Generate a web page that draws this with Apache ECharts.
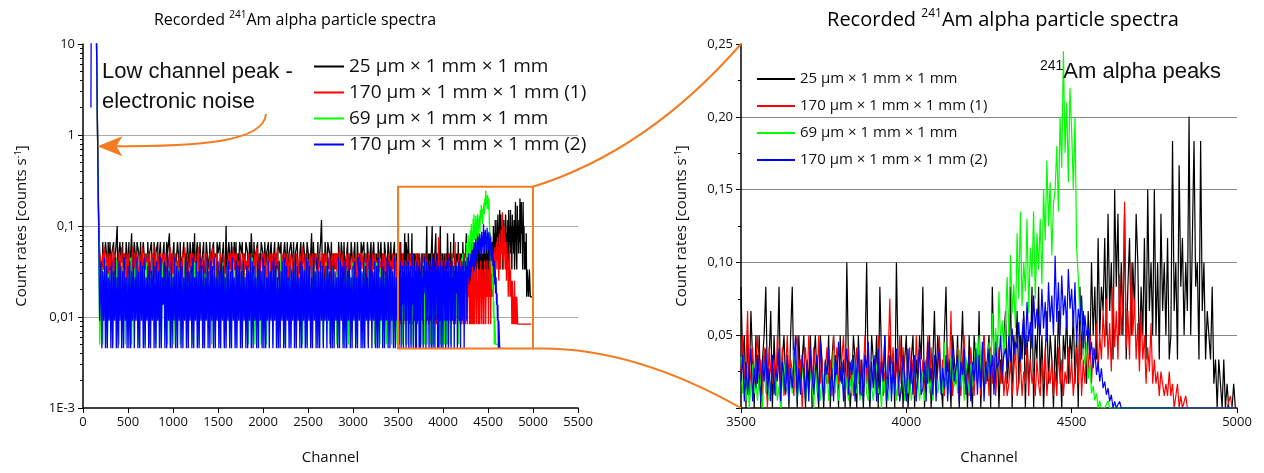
<!DOCTYPE html>
<html>
<head>
<meta charset="utf-8">
<script src="https://cdn.jsdelivr.net/npm/echarts@6/dist/echarts.min.js"></script>
<style>
html, body { margin: 0; padding: 0; background: #fff; }
#chart { width: 1264px; height: 473px; }
</style>
</head>
<body>
<div id="chart"></div>
<script>
// detectors (legend names) and colours
var names = ['25 µm × 1 mm × 1 mm', '170 µm × 1 mm × 1 mm (1)', '69 µm × 1 mm × 1 mm', '170 µm × 1 mm × 1 mm (2)'];
var colors = ['#000000', '#ff0000', '#00ff00', '#0000ff'];
// measuring time per detector [s], count rate = counts / time
var liveTime = [60, 120, 200, 220];

// channel grids
var peakCh = [88, 92, 145, 155, 163, 172, 185];
var lowCh = [];
for (var c = 200; c < 3500; c += 10) lowCh.push(c);
var highCh = [];
for (var c2 = 3500; c2 < 5000; c2 += 5) highCh.push(c2);

// counts at the low channel (noise) peak
var blackPeak = [0, 0, 1800, 1800, 50, 8, 3];
var redPeak = [0, 0, 3600, 3600, 90, 20, 6];
var greenPeak = [0, 0, 6000, 6000, 150, 30, 1];
var bluePeak = [440, 6600, 6600, 6600, 170, 35, 2];

// counts, channels 200..3490 (step 10)
var blackLow = [3,1,4,2,0,4,3,1,4,2, 4,2,3,0,4,1,3,4,6,1, 3,4,0,2,4,1,3,2,4,0, 2,4,1,3,5,2,0,4,3,1,
  4,0,3,2,4,1,3,4,0,2, 3,1,4,2,3,0,4,2,1,4, 2,3,0,4,1,3,4,2,0,3, 4,1,2,4,3,0,5,2,3,1,
  3,4,1,2,0,4,3,1,4,2, 0,3,4,1,3,2,4,0,2,4, 3,1,4,2,5,1,3,4,0,2, 4,2,0,3,4,1,2,4,3,0,
  2,4,1,3,0,4,2,3,1,4, 3,0,4,2,1,3,4,1,2,6, 1,3,4,0,2,4,3,1,4,2, 4,1,3,2,4,0,3,4,1,3,
  2,4,0,3,1,4,2,5,3,1, 4,2,3,0,4,1,3,2,4,0, 3,1,4,2,3,0,4,1,3,4, 2,0,3,4,1,3,2,4,0,3,
  4,1,2,3,4,0,2,4,1,3, 3,4,0,2,4,1,3,0,4,2, 1,3,4,2,0,4,3,1,2,4, 4,0,2,3,5,1,4,2,3,0,
  2,4,1,3,4,7,2,3,1,4, 3,1,4,0,3,2,4,1,3,2, 3,2,3,1,4,0,2,4,3,1, 4,2,0,3,4,1,3,2,4,0,
  2,3,4,1,0,4,2,3,1,4, 3,0,4,2,3,1,4,0,2,3, 4,1,3,4,2,0,3,1,4,2, 0,4,2,3,1,4,3,0,2,4,
  3,1,4,2,0,3,4,1,3,2];
var redLow = [5,3,6,4,7,2,5,6,3,6, 4,6,2,5,7,3,6,4,5,3, 6,3,5,7,4,2,6,5,3,6, 3,6,4,5,2,7,4,6,3,5,
  6,4,3,6,5,2,7,3,5,6, 4,5,6,3,6,4,2,6,5,3, 7,3,5,6,4,3,6,2,5,6, 5,6,3,4,6,5,3,7,4,2,
  6,3,5,6,2,5,4,6,3,5, 3,6,4,7,5,3,6,4,2,6, 5,4,6,3,5,6,2,5,7,3, 6,2,5,4,6,3,5,6,4,3,
  4,6,3,5,7,4,6,2,5,6, 6,3,5,6,4,2,6,5,3,4, 3,5,6,4,6,3,5,7,4,6, 5,6,2,5,4,6,3,5,6,3,
  6,4,5,3,6,5,2,6,4,5, 4,6,3,7,5,4,6,3,5,6, 5,3,6,4,2,6,5,4,6,3, 6,5,3,6,4,5,7,3,5,4,
  3,6,5,4,6,2,5,6,3,5, 6,4,3,5,6,4,3,6,5,2, 5,6,4,3,7,5,4,6,3,6, 4,3,6,5,3,6,4,2,6,5,
  6,5,3,6,4,5,6,3,4,6, 3,6,5,4,6,3,5,6,2,5, 6,4,6,3,5,7,4,3,6,4, 5,3,4,6,3,5,6,4,5,3,
  6,5,3,6,4,2,6,5,4,6, 4,6,5,3,6,4,3,6,5,3, 5,3,6,4,5,6,3,5,4,6, 3,5,4,6,3,5,6,2,5,4,
  6,4,5,3,6,4,5,6,3,5];
var greenLow = [3,7,1,5,2,8,4,1,6,3, 5,2,7,1,4,6,2,9,3,5, 1,6,3,8,2,4,7,1,5,3, 6,2,4,9,1,5,3,7,2,4,
  8,3,1,5,6,2,4,7,3,1, 5,8,2,4,1,6,3,5,9,2, 4,1,7,3,5,2,6,1,4,8, 3,5,2,6,1,7,4,3,5,2,
  6,1,4,8,3,5,2,7,1,4, 5,3,9,2,6,1,4,5,3,7, 2,6,1,4,8,3,5,2,6,1, 4,7,3,5,1,6,2,4,8,3,
  5,2,6,1,7,3,4,9,2,5, 3,6,1,5,2,8,4,1,6,3, 7,2,5,1,4,6,2,8,3,5, 1,4,7,2,6,3,5,1,8,4,
  2,6,3,5,1,7,4,2,9,3, 6,1,5,3,8,2,4,6,1,5, 3,7,2,4,1,6,3,8,2,4, 5,1,6,3,7,2,5,1,4,9,
  2,5,3,8,1,4,6,2,5,3, 7,1,4,2,6,3,9,1,5,2, 4,6,2,5,1,7,3,4,8,1, 6,3,5,1,4,2,8,5,3,6,
  1,5,3,7,2,6,4,1,5,3, 8,2,4,6,1,5,3,7,2,4, 3,6,1,5,9,2,4,3,6,1, 5,2,7,3,4,1,6,5,2,8,
  2,4,6,1,5,3,7,2,4,5, 6,1,3,8,2,4,5,1,7,3, 4,5,2,6,1,3,8,4,2,6, 1,7,4,2,5,6,3,1,5,4,
  5,3,6,1,4,2,7,5,3,1];
var blueLow = [9,1,7,2,10,1,8,1,6,2, 8,1,9,1,7,2,10,1,6,1, 9,2,8,1,7,1,10,2,6,1, 8,1,9,1,7,2,11,1,6,2,
  10,1,7,1,9,2,8,1,10,1, 6,2,8,1,9,1,7,2,10,1, 8,1,9,2,7,1,10,1,6,3, 9,1,8,1,11,2,7,1,9,1,
  6,2,10,1,8,1,7,2,9,1, 8,1,6,2,10,1,9,1,7,2, 8,1,10,1,6,2,9,1,7,1, 10,2,8,1,9,1,6,2,10,1,
  7,1,9,2,8,1,10,1,6,2, 9,1,7,1,10,2,8,1,6,1, 8,2,9,1,7,1,10,2,6,1, 9,1,8,2,10,1,7,1,9,2,
  6,1,8,1,7,2,10,1,9,1, 8,2,6,1,9,1,10,2,7,1, 10,1,8,1,6,2,9,1,7,2, 9,1,10,2,8,1,6,1,9,1,
  7,2,9,1,10,1,8,2,6,1, 8,1,7,2,9,1,10,1,8,2, 6,1,9,1,8,2,7,1,10,1, 9,2,8,1,6,1,10,2,7,1,
  10,1,7,1,9,2,8,1,6,2, 8,1,10,2,7,1,9,1,8,1, 7,2,6,1,10,1,9,2,8,1, 9,1,8,1,7,2,10,1,6,1,
  8,2,9,1,6,1,10,2,9,1, 7,1,10,1,8,2,6,1,9,2, 10,1,7,2,9,1,8,1,10,1, 6,2,9,1,8,1,7,2,10,1,
  9,1,8,2,7,1,10,1,6,2];

// counts, channels 3500..4995 (step 5)
var blackHigh = [5,2,3,0,3,1,4,2,0,3, 1,3,0,2,3,5,1,2,4,0, 3,1,2,5,0,2,3,1,2,0, 3,5,1,2,0,3,1,2,3,0,
  2,1,3,0,2,3,1,0,3,2, 0,2,1,3,0,2,3,1,2,0, 3,1,2,0,6,2,0,1,3,2, 0,3,1,2,0,2,6,1,0,3,
  2,1,3,0,5,2,1,3,0,2, 3,1,2,0,6,2,1,3,0,2, 3,0,1,2,3,0,2,1,3,2, 5,0,2,1,3,0,2,4,1,3,
  2,1,0,3,5,1,2,0,3,2, 1,3,0,2,4,1,2,0,3,1, 0,3,2,1,4,0,2,3,1,2, 3,0,5,2,1,3,0,2,1,3,
  4,1,2,5,0,3,2,4,1,3, 2,4,0,3,1,2,5,0,3,2, 5,1,3,0,2,4,1,3,2,0, 3,1,4,2,0,3,2,4,1,3,
  2,4,1,3,0,5,2,4,3,1, 4,2,6,3,5,2,7,3,5,4, 7,3,8,4,6,2,9,5,8,3, 6,3,8,2,5,7,3,6,4,8,
  6,2,5,3,7,2,9,4,6,3, 9,3,6,2,8,4,6,3,7,2, 3,11,4,6,2,10,5,7,3,6, 4,12,3,7,11,5,6,2,11,4,
  6,2,4,3,2,5,1,2,0,2, 1,0,2,0,1,0,0,0,1,0];
var redHigh = [3,6,2,4,8,1,3,5,2,4, 6,2,4,1,5,3,0,5,3,2, 4,1,6,3,2,5,1,3,6,2, 4,3,1,5,6,2,4,0,3,5,
  2,6,4,1,5,3,2,6,2,4, 1,3,5,2,4,1,6,3,5,2, 2,4,6,1,3,5,2,4,1,3, 5,2,4,1,3,6,2,5,1,3,
  2,4,1,6,2,5,1,3,2,4, 9,3,5,2,4,1,6,2,5,3, 1,3,5,2,4,1,6,3,5,2, 4,1,3,6,2,5,1,4,2,3,
  6,2,4,1,3,5,2,8,1,3, 2,5,3,1,4,6,2,3,1,5, 3,1,4,2,5,1,3,6,2,4, 1,5,2,4,1,3,5,2,4,1,
  3,1,2,4,1,3,5,1,2,4, 1,3,2,5,1,4,2,3,1,4, 2,1,4,2,5,1,3,2,4,1, 3,1,5,2,4,1,3,2,5,2,
  4,1,3,5,2,6,1,4,2,5, 3,6,2,5,4,7,3,6,4,8, 5,9,4,7,3,10,5,8,4,11, 6,9,17,5,8,4,12,6,9,4,
  7,3,8,4,6,2,5,3,7,2, 4,2,3,1,3,2,1,2,1,3, 1,2,0,1,2,0,1,0,0,1, 0,0,0,0,0,0,0,0,0,0,
  0,0,0,0,0,0,0,0,0,0, 0,0,0,0,0,0,1,0,0,0];
var greenHigh = [7,2,4,1,5,0,3,6,2,4, 1,5,3,0,6,2,4,1,3,7, 2,5,1,3,0,4,6,2,3,1, 5,2,8,3,1,4,2,6,3,1,
  4,2,5,3,0,6,2,4,1,5, 3,2,6,1,4,3,8,2,5,1, 4,6,2,5,3,1,4,2,7,3, 2,5,1,4,3,6,2,1,5,3,
  1,4,6,2,3,0,5,2,4,1, 3,6,2,4,1,5,3,2,6,1, 4,2,5,1,3,6,2,4,1,3, 5,1,3,7,2,4,1,6,3,2,
  4,6,2,9,3,5,2,7,4,3, 6,2,8,3,5,1,7,4,2,6, 3,6,9,4,10,5,8,3,6,4, 9,5,13,7,11,6,16,9,12,7,
  12,18,9,21,13,17,11,24,15,27, 14,20,16,26,13,22,18,27,15,24, 19,26,17,30,23,34,25,31,21,28, 30,36,27,40,33,49,35,42,31,44,
  38,30,40,22,18,12,15,8,6,9, 4,6,2,3,1,2,0,1,0,0, 0,0,1,0,0,0,0,0,0,0, 0,0,0,0,0,0,0,0,0,0,
  0,0,0,0,0,0,0,0,0,0, 0,0,0,0,0,0,0,0,0,0, 0,0,0,0,0,0,0,0,0,0, 0,0,0,0,0,0,0,0,0,0,
  0,0,0,0,0,0,0,0,0,0, 0,0,0,0,0,0,0,0,0,0];
var blueHigh = [4,8,1,7,2,6,9,1,6,3, 8,5,1,7,4,9,2,6,1,8, 2,6,4,9,1,7,5,2,8,1, 6,3,7,11,1,6,2,8,5,1,
  7,1,9,5,2,6,8,1,10,5, 1,7,5,9,2,6,1,8,5,10, 4,7,1,6,9,2,7,5,8,1, 6,9,2,7,1,8,6,10,1,7,
  3,8,1,9,2,7,4,11,1,3, 8,1,7,2,9,5,1,3,8,4, 1,9,3,7,2,8,1,6,9,2, 3,7,1,10,4,6,2,8,1,7,
  9,2,6,3,8,1,7,2,9,4, 6,8,1,7,5,9,2,6,8,1, 7,4,9,2,8,3,10,1,7,4, 9,5,8,2,10,6,7,11,5,8,
  9,6,11,7,12,8,10,9,13,7, 11,14,8,16,10,13,9,17,12,15, 15,11,18,12,16,10,19,13,17,11, 23,13,19,11,20,14,17,12,21,15,
  18,12,19,10,15,13,17,9,14,11, 12,8,10,6,9,5,7,4,6,3, 4,2,3,1,2,0,1,0,0,1, 0,0,0,0,0,0,0,0,0,0,
  0,0,0,0,0,0,0,0,0,0, 0,0,0,0,0,0,0,0,0,0, 0,0,0,0,0,0,0,0,0,0, 0,0,0,0,0,0,0,0,0,0,
  0,0,0,0,0,0,0,0,0,0, 0,0,0,0,0,0,0,0,0,0];

// axis tick labels
var logLabels = ['1E-3', '0,01', '0,1', '1', '10'];

var peaks = [blackPeak, redPeak, greenPeak, bluePeak];
var lows = [blackLow, redLow, greenLow, blueLow];
var highs = [blackHigh, redHigh, greenHigh, blueHigh];

function pairs(ch, counts, t, dropZero) {
  return ch.map(function (x, i) {
    var v = counts[i];
    return [x, (dropZero && v === 0) ? null : v / t];
  });
}

// minor tick positions of the log axis (2..9 in every decade)
var minorLog = [];
[0.001, 0.01, 0.1, 1].forEach(function (d) {
  for (var k = 2; k <= 9; k++) minorLog.push(d * k);
});

var font = 'Open Sans';
var ink = '#111';
function titleRich(size) {
  return {
    n: { fontSize: size, fontFamily: font, color: ink, lineHeight: size + 4 },
    s: { fontSize: Math.round(size * 0.62), fontFamily: font, color: ink, verticalAlign: 'top', lineHeight: size + 4 }
  };
}
var axisNameRich = {
  n: { fontSize: 15, fontFamily: font, color: ink },
  s: { fontSize: 9, fontFamily: font, color: ink, verticalAlign: 'top' }
};

function xAxis(gi, min, max) {
  return {
    gridIndex: gi, type: 'value', min: min, max: max, interval: 500,
    name: 'Channel', nameLocation: 'middle', nameGap: 42,
    nameTextStyle: { fontSize: 15, fontFamily: font, color: ink },
    axisLine: { lineStyle: { color: '#000', width: 1.5 } },
    axisTick: { length: 5, lineStyle: { color: '#000' } },
    axisLabel: { fontSize: 13, fontFamily: font, color: ink, margin: 8, formatter: function (v) { return String(v); } },
    splitLine: { show: false }
  };
}

var series = [];
names.forEach(function (nm, k) {
  series.push({
    name: nm, type: 'line', xAxisIndex: 0, yAxisIndex: 0,
    data: pairs(peakCh, peaks[k], liveTime[k], true)
      .concat(pairs(lowCh, lows[k], liveTime[k], true))
      .concat(pairs(highCh, highs[k], liveTime[k], true)),
    connectNulls: true, symbol: 'none', showSymbol: false,
    lineStyle: { width: 1.3, color: colors[k] }, itemStyle: { color: colors[k] }
  });
});
names.forEach(function (nm, k) {
  series.push({
    name: nm, type: 'line', xAxisIndex: 1, yAxisIndex: 2,
    data: pairs(highCh, highs[k], liveTime[k], false),
    symbol: 'none', showSymbol: false,
    lineStyle: { width: 1.2, color: colors[k] }, itemStyle: { color: colors[k] }
  });
});

var chart = echarts.init(document.getElementById('chart'));
chart.setOption({
  animation: false,
  color: colors,
  legend: [
    { data: names, orient: 'vertical', icon: 'rect', itemWidth: 30, itemHeight: 2, padding: 0,
      left: 314, top: 57, itemGap: 7, selectedMode: false,
      textStyle: { fontSize: 19, fontFamily: font, color: ink, lineHeight: 19 } },
    { data: names, orient: 'vertical', icon: 'rect', itemWidth: 38, itemHeight: 2, padding: 0,
      left: 757, top: 71, itemGap: 11, selectedMode: false,
      textStyle: { fontSize: 15, fontFamily: font, color: ink, lineHeight: 16 } }
  ],
  grid: [
    { left: 83, top: 44, width: 495, height: 364 },
    { left: 741, top: 44, width: 496, height: 364 }
  ],
  xAxis: [xAxis(0, 0, 5500), xAxis(1, 3500, 5000)],
  yAxis: [
    {
      gridIndex: 0, type: 'log', logBase: 10, min: 0.001, max: 10,
      name: '{n|Count rates [counts s}{s|-1}{n|]}', nameLocation: 'middle', nameGap: 54,
      nameTextStyle: { rich: axisNameRich },
      axisLine: { show: true, lineStyle: { color: '#000', width: 1.5 } },
      axisTick: { show: true, length: 5, lineStyle: { color: '#000' } },
      axisLabel: {
        fontSize: 13, fontFamily: font, color: ink, margin: 8,
        formatter: function (v) { return logLabels[Math.round(Math.log10(v)) + 3]; }
      },
      splitLine: { show: true, showMinLine: false, showMaxLine: false, lineStyle: { color: '#aaa', width: 1 } }
    },
    {
      gridIndex: 0, type: 'log', logBase: 10, min: 0.001, max: 10, position: 'left',
      axisLine: { show: false }, axisLabel: { show: false }, splitLine: { show: false },
      axisTick: { show: true, length: 3, customValues: minorLog, lineStyle: { color: '#000' } }
    },
    {
      gridIndex: 1, type: 'value', min: 0, max: 0.25, interval: 0.05,
      name: '{n|Count rates [counts s}{s|-1}{n|]}', nameLocation: 'middle', nameGap: 52,
      nameTextStyle: { rich: axisNameRich },
      axisLine: { show: true, lineStyle: { color: '#000', width: 1.5 } },
      axisTick: { show: true, length: 5, lineStyle: { color: '#000' } },
      minorTick: { show: true, splitNumber: 2, length: 3, lineStyle: { color: '#000' } },
      axisLabel: {
        fontSize: 13, fontFamily: font, color: ink, margin: 8,
        formatter: function (v) { return v === 0 ? '' : v.toFixed(2).replace('.', ','); }
      },
      splitLine: { show: true, showMinLine: false, showMaxLine: false, lineStyle: { color: '#888', width: 1 } }
    }
  ],
  series: series
});

// zoom box, connectors, titles and annotations
var orange = '#f47b20';
var tl = chart.convertToPixel({ xAxisIndex: 0, yAxisIndex: 0 }, [3500, 0.27]);
var br = chart.convertToPixel({ xAxisIndex: 0, yAxisIndex: 0 }, [5000, 0.0045]);
var rTop = chart.convertToPixel({ xAxisIndex: 1, yAxisIndex: 2 }, [3500, 0.25]);
var rBot = chart.convertToPixel({ xAxisIndex: 1, yAxisIndex: 2 }, [3500, 0]);
var tip = chart.convertToPixel({ xAxisIndex: 0, yAxisIndex: 0 }, [160, 0.75]);
var titleText = '{n|Recorded }{s|241}{n|Am alpha particle spectra}';

chart.setOption({
  graphic: [
    { type: 'text', x: 295, y: 10, z: 100,
      style: { text: titleText, rich: titleRich(16), align: 'center', textAlign: 'center' } },
    { type: 'text', x: 1003, y: 8, z: 100,
      style: { text: titleText, rich: titleRich(20), align: 'center', textAlign: 'center' } },
    { type: 'rect', shape: { x: tl[0], y: tl[1], width: br[0] - tl[0], height: br[1] - tl[1] },
      style: { fill: 'none', stroke: orange, lineWidth: 2 }, z: 100 },
    { type: 'bezierCurve', shape: { x1: br[0], y1: tl[1], x2: rTop[0], y2: rTop[1],
        cpx1: br[0] + 0.55 * (rTop[0] - br[0]), cpy1: tl[1] - 0.25 * (tl[1] - rTop[1]) },
      style: { fill: 'none', stroke: orange, lineWidth: 2 }, z: 100 },
    { type: 'bezierCurve', shape: { x1: br[0], y1: br[1], x2: rBot[0], y2: rBot[1],
        cpx1: br[0] + 0.47 * (rBot[0] - br[0]), cpy1: br[1] - 0.05 * (rBot[1] - br[1]) },
      style: { fill: 'none', stroke: orange, lineWidth: 2 }, z: 100 },
    { type: 'bezierCurve', shape: { x1: 266, y1: 114, x2: tip[0] + 14, y2: tip[1],
        cpx1: 264, cpy1: 142, cpx2: 200, cpy2: tip[1] },
      style: { fill: 'none', stroke: orange, lineWidth: 2 }, z: 100 },
    { type: 'polygon', shape: { points: [[tip[0], tip[1]], [tip[0] + 25, tip[1] - 10], [tip[0] + 19, tip[1]], [tip[0] + 25, tip[1] + 10]] },
      style: { fill: orange }, z: 100 },
    { type: 'text', left: 102, top: 57, z: 100,
      style: { text: 'Low channel peak -\nelectronic noise', font: '22px "Liberation Sans"', fill: ink, lineHeight: 30 } },
    { type: 'text', left: 1040, top: 59, z: 100,
      style: { text: '{s|241}{n|Am alpha peaks}', fill: ink,
        rich: { n: { fontSize: 22, fontFamily: 'Liberation Sans', color: ink, lineHeight: 26 },
                s: { fontSize: 14, fontFamily: 'Liberation Sans', color: ink, verticalAlign: 'top', lineHeight: 26 } } } }
  ]
});
</script>
</body>
</html>
